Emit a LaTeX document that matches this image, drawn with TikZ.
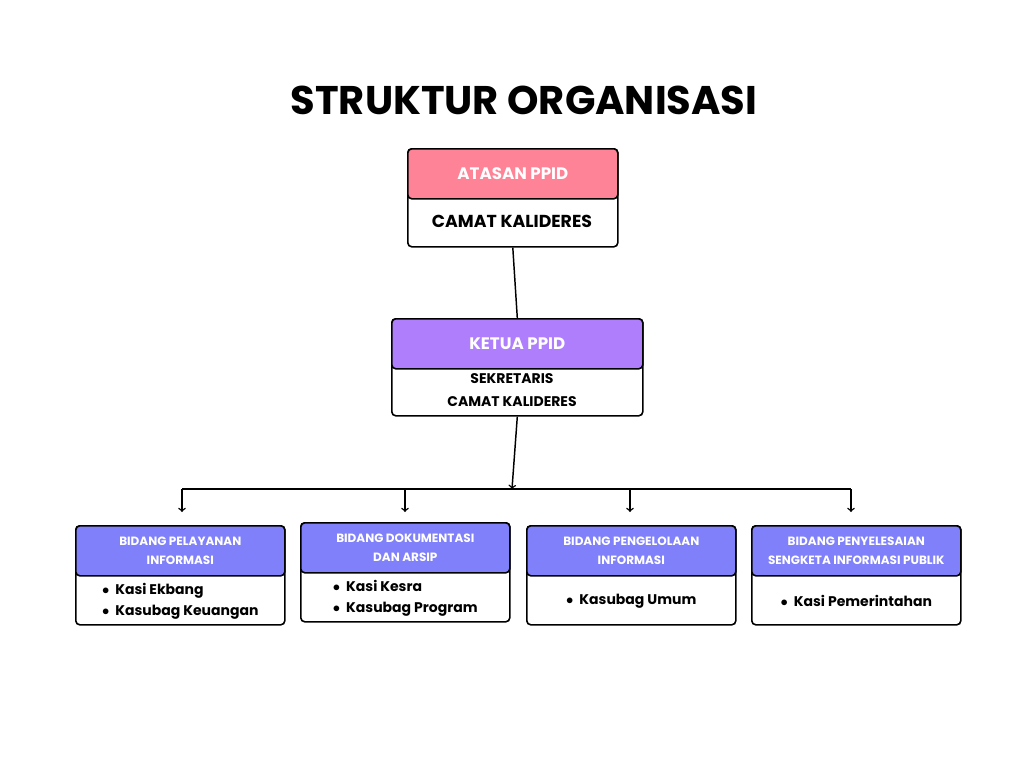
\documentclass[tikz,border=0pt]{standalone}
\usepackage{fontspec}
\setmainfont{Poppins}[BoldFont={* Bold}]
\usetikzlibrary{positioning,calc}
\definecolor{headpink}{HTML}{FF8396}
\definecolor{headviolet}{HTML}{AF7EFD}
\definecolor{headblue}{HTML}{7F80FA}
\tikzset{
  boxbody/.style={draw, line width=1.2pt, rounded corners=3pt, fill=white, anchor=north west},
  boxhead/.style={draw, line width=1.2pt, rounded corners=3pt, anchor=north west, text=white, font=\bfseries, align=center, inner sep=0pt},
  bodytext/.style={font=\bfseries, align=center},
  link/.style={line width=1.1pt},
}
\begin{document}
\begin{tikzpicture}[x=0.75pt,y=-0.75pt]
  \useasboundingbox (0,0) rectangle (1024,768);

  \node[font=\bfseries\fontsize{30}{34}\selectfont] (title) at (524,100) {STRUKTUR ORGANISASI};

  % atasan
  \node[boxbody, minimum width=210*0.75pt, minimum height=98*0.75pt] (atasan) at (407,148) {};
  \node[boxhead, fill=headpink, minimum width=210*0.75pt, minimum height=50*0.75pt, font=\bfseries\fontsize{12.5}{14}\selectfont] (atasanhd) at (407,148) {ATASAN PPID};
  \node[bodytext, font=\bfseries\fontsize{13}{15}\selectfont] (atasantx) at (512,221) {CAMAT KALIDERES};

  % ketua
  \node[boxbody, minimum width=251*0.75pt, minimum height=97*0.75pt] (ketua) at (391,318) {};
  \node[boxhead, fill=headviolet, minimum width=251*0.75pt, minimum height=50*0.75pt, font=\bfseries\fontsize{12.5}{14}\selectfont] (ketuahd) at (391,318) {KETUA PPID};
  \node[bodytext, font=\bfseries\fontsize{10.5}{17}\selectfont] (ketuatx) at (512,390) {SEKRETARIS\\CAMAT KALIDERES};

  % bidang
  \foreach \name/\x/\y/\head/\items in {
      pel/75/525/{BIDANG PELAYANAN\\INFORMASI}/{$\bullet$\ \ Kasi Ekbang\\$\bullet$\ \ Kasubag Keuangan},
      dok/300/522/{BIDANG DOKUMENTASI\\DAN ARSIP}/{$\bullet$\ \ Kasi Kesra\\$\bullet$\ \ Kasubag Program},
      kel/526/525/{BIDANG PENGELOLAAN\\INFORMASI}/{$\bullet$\ \ Kasubag Umum},
      sen/751/525/{BIDANG PENYELESAIAN\\SENGKETA INFORMASI PUBLIK}/{$\bullet$\ \ Kasi Pemerintahan}} {
    \node[boxbody, minimum width=209*0.75pt, minimum height=99*0.75pt] (\name) at (\x,\y) {};
    \node[boxhead, fill=headblue, minimum width=209*0.75pt, minimum height=50*0.75pt, font=\bfseries\fontsize{9}{14}\selectfont] (\name hd) at (\x,\y) {\head};
    \node[font=\bfseries\fontsize{10.5}{16}\selectfont, align=left, anchor=center] (\name tx) at ($(\name hd.south)!0.5!(\name.south)$) {\items};
  }

  % connectors
  \draw[link] (atasan.south) -- (ketuahd.north);
  \coordinate (split) at (512,489);
  \draw[link,->] (ketua.south) -- (split);
  \coordinate (left) at (182,489);
  \coordinate (right) at (851,489);
  \draw[link] (left) -- (right);
  \foreach \x in {182,405,630,851}
    \draw[link,->] (\x,489) -- (\x,512);
\end{tikzpicture}
\end{document}
